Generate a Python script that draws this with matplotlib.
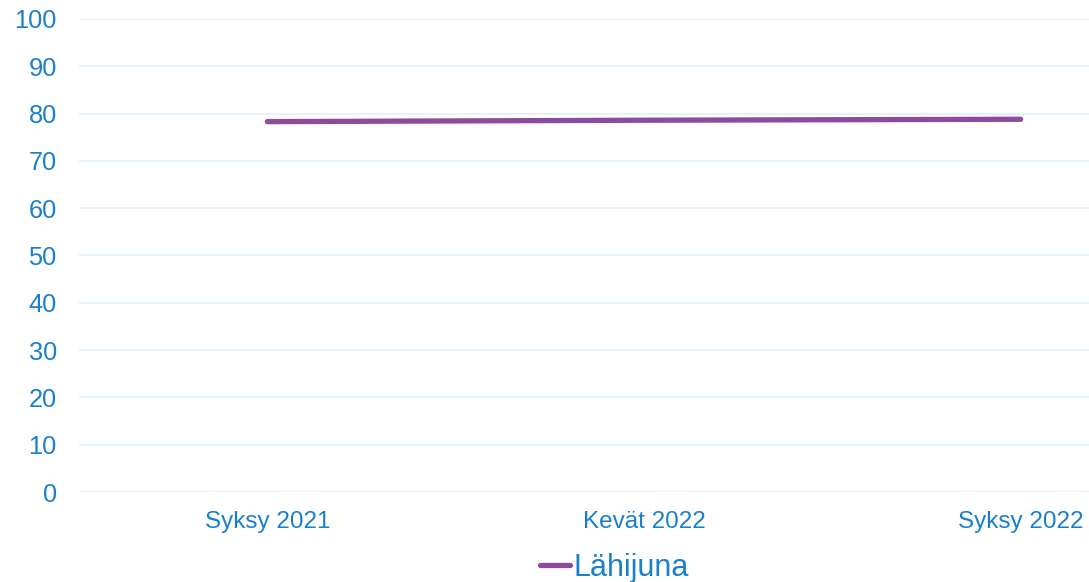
import matplotlib
matplotlib.use("Agg")
import matplotlib.pyplot as plt
from matplotlib.lines import Line2D

categories = ["Syksy 2021", "Kevät 2022", "Syksy 2022"]
lahijuna = [78.3, 78.6, 78.8]
series_name = "Lähijuna"
y_ticks = [0, 10, 20, 30, 40, 50, 60, 70, 80, 90, 100]

W, H = 1089, 582
fig = plt.figure(figsize=(W / 100, H / 100), dpi=100)
plt.rcParams['font.family'] = ['Liberation Sans', 'DejaVu Sans']
text_col = "#1a80cc"
grid_col = "#e0f0fc"
line_col = "#8e4a9d"

ax = fig.add_axes([79 / W, 90 / H, 1130 / W, 473 / H])
x = list(range(len(categories)))
ax.plot(x, lahijuna, color=line_col, lw=3.8, solid_capstyle="round")
ax.set_xlim(-0.5, len(categories) - 0.5)
ax.set_ylim(0, 100)
ax.set_yticks(y_ticks)
ax.set_xticks(x)
ax.set_xticklabels(categories)
ax.yaxis.grid(True, color=grid_col, lw=1.2)
ax.set_axisbelow(True)
for s in ax.spines.values():
    s.set_visible(False)
ax.tick_params(axis="both", length=0, colors=text_col)
ax.tick_params(axis="y", labelsize=18.3, pad=16)
ax.tick_params(axis="x", labelsize=17.5, pad=14)

handle = Line2D([0], [0], color=line_col, lw=3.8, solid_capstyle="round")
fig.legend([handle], [series_name], loc="center", bbox_to_anchor=(614 / W, 1 - 568 / H),
           frameon=False, fontsize=22, labelcolor=text_col, handlelength=1.0,
           handletextpad=0.1)

fig.savefig("out.png", dpi=100)
